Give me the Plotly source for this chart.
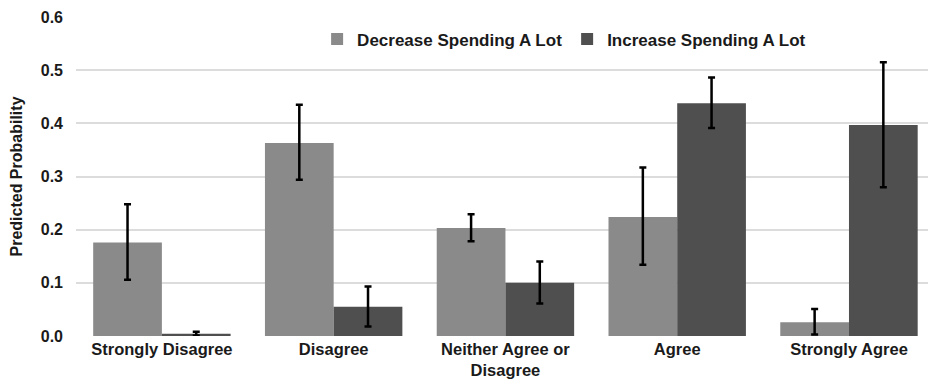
import plotly.graph_objects as go

categories = ["Strongly Disagree", "Disagree", "Neither Agree or<br>Disagree", "Agree", "Strongly Agree"]

decrease = [0.176, 0.363, 0.203, 0.224, 0.026]
decrease_hi = [0.248, 0.435, 0.229, 0.317, 0.051]
decrease_lo = [0.106, 0.294, 0.178, 0.134, 0.003]

increase = [0.004, 0.055, 0.100, 0.438, 0.397]
increase_hi = [0.008, 0.093, 0.140, 0.486, 0.515]
increase_lo = [0.001, 0.018, 0.061, 0.391, 0.280]

y_ticks = [0.0, 0.1, 0.2, 0.3, 0.4, 0.5, 0.6]

FONT = "Liberation Sans, Arial, sans-serif"
INK = "#1a1a1a"


def err(vals, hi, lo):
    return dict(
        type="data",
        symmetric=False,
        array=[h - v for h, v in zip(hi, vals)],
        arrayminus=[v - l for v, l in zip(vals, lo)],
        color="black",
        thickness=2.5,
        width=3.5,
    )


fig = go.Figure()
fig.add_trace(go.Bar(
    name="Decrease Spending A Lot",
    x=list(range(len(categories))),
    y=decrease,
    marker=dict(color="#8a8a8a", line=dict(width=0)),
    error_y=err(decrease, decrease_hi, decrease_lo),
))
fig.add_trace(go.Bar(
    name="Increase Spending A Lot",
    x=list(range(len(categories))),
    y=increase,
    marker=dict(color="#4f4f4f", line=dict(width=0)),
    error_y=err(increase, increase_hi, increase_lo),
))

fig.update_layout(
    width=928,
    height=383,
    margin=dict(l=76, r=0, t=17, b=47),
    paper_bgcolor="white",
    plot_bgcolor="white",
    barmode="group",
    bargap=0.2,
    bargroupgap=0,
    font=dict(family=FONT, size=16, color=INK, weight="bold"),
    legend=dict(
        orientation="h",
        x=0.283, y=0.93,
        xanchor="left", yanchor="middle",
        font=dict(family=FONT, size=17, color=INK, weight="bold"),
        bgcolor="rgba(0,0,0,0)",
        itemwidth=30,
        traceorder="normal",
    ),
    showlegend=True,
)

fig.update_xaxes(
    tickmode="array",
    tickvals=list(range(len(categories))),
    ticktext=categories,
    range=[-0.5, 4.46],
    showgrid=False,
    zeroline=False,
    showline=False,
    ticks="",
    automargin=False,
    ticklabelstandoff=1,
    tickfont=dict(family=FONT, size=16.5, color=INK, weight="bold"),
)

fig.update_yaxes(
    range=[0, 0.6],
    tickmode="array",
    tickvals=y_ticks,
    ticktext=[f"{v:.1f}" for v in y_ticks],
    showgrid=True,
    gridcolor="#dcdcdc",
    gridwidth=1.5,
    zeroline=False,
    showline=False,
    ticks="",
    automargin=False,
    ticklabelstandoff=12,
    tickfont=dict(family=FONT, size=16, color=INK, weight="bold"),
    title=dict(
        text="Predicted Probability",
        font=dict(family=FONT, size=16, color=INK, weight="bold"),
        standoff=14,
    ),
)

fig.write_html("out.html")
